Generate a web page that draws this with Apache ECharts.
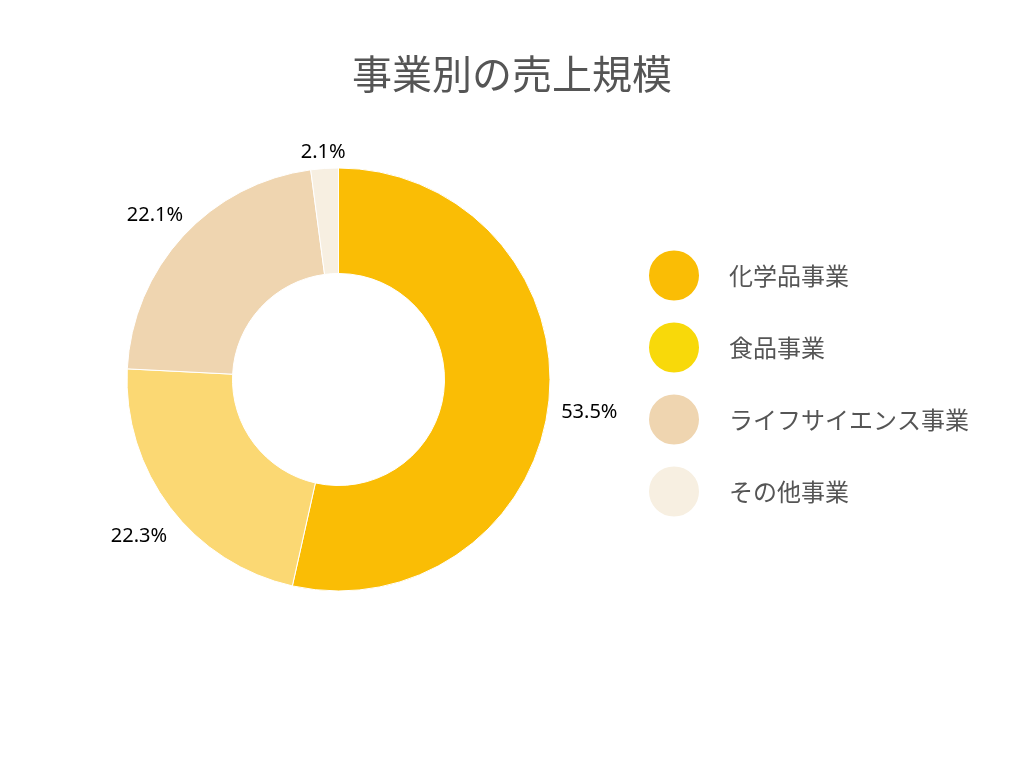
<!DOCTYPE html>
<html><head><meta charset="utf-8">
<script src="https://cdn.jsdelivr.net/npm/echarts@6/dist/echarts.min.js"></script>
<style>html,body{margin:0;padding:0;background:#fff}#c{width:1024px;height:768px}</style>
</head><body><div id="c"></div>
<script>
const categories = ['化学品事業', '食品事業', 'ライフサイエンス事業', 'その他事業'];
const values = [53.5, 22.3, 22.1, 2.1];
const sliceColors = ['#FABD05', '#FBD873', '#EFD5B0', '#F7EFE1'];
const legendColors = ['#FABD05', '#F8D90A', '#EFD5B0', '#F7EFE1'];

const CX = 338.5, CY = 379.5, R_IN = 106, R_OUT = 211.5;
const total = values.reduce((a, b) => a + b, 0);
// mid-angle of each slice (clockwise from 12 o'clock), derived from the data
const midAngles = [];
{ let acc = 0; values.forEach(v => { midAngles.push((acc + v / 2) / total * 2 * Math.PI); acc += v; }); }

const chart = echarts.init(document.getElementById('c'));
chart.setOption({
  animation: false,
  title: {
    text: '事業別の売上規模', left: 'center', top: 49,
    textStyle: { fontFamily: 'Noto Sans CJK JP', fontSize: 40, fontWeight: 'normal', color: '#555555' }
  },
  legend: {
    orient: 'vertical', left: 647, top: 248.5, padding: 0, icon: 'circle',
    itemWidth: 52, itemHeight: 52, itemGap: 18,
    data: categories.map((n, i) => ({ name: n, itemStyle: { color: legendColors[i] } })),
    textStyle: { fontFamily: 'Noto Sans CJK JP', fontSize: 24, color: '#555555', padding: [0, 0, 0, 24] }
  },
  series: [{
    type: 'pie', center: [CX, CY], radius: [R_IN, R_OUT], startAngle: 90, clockwise: true,
    data: categories.map((n, i) => ({ name: n, value: values[i], itemStyle: { color: sliceColors[i] } })),
    itemStyle: { borderColor: '#ffffff', borderWidth: 1 },
    label: {
      show: true, position: 'outside', formatter: p => p.value.toFixed(1) + '%',
      fontFamily: 'Noto Sans', fontSize: 20, color: '#000000'
    },
    labelLine: { show: false },
    labelLayout: function (params) {
      const a = midAngles[params.dataIndex];
      const dx = Math.sin(a), dy = -Math.cos(a);
      const w = params.labelRect.width, h = 16;
      const rr = R_OUT + 12 + Math.abs(dx) * w / 2 + Math.abs(dy) * h / 2;
      return { x: CX + dx * rr, y: CY + dy * rr + 5, align: 'center', verticalAlign: 'middle' };
    },
    emphasis: { disabled: true }
  }]
});
</script></body></html>
